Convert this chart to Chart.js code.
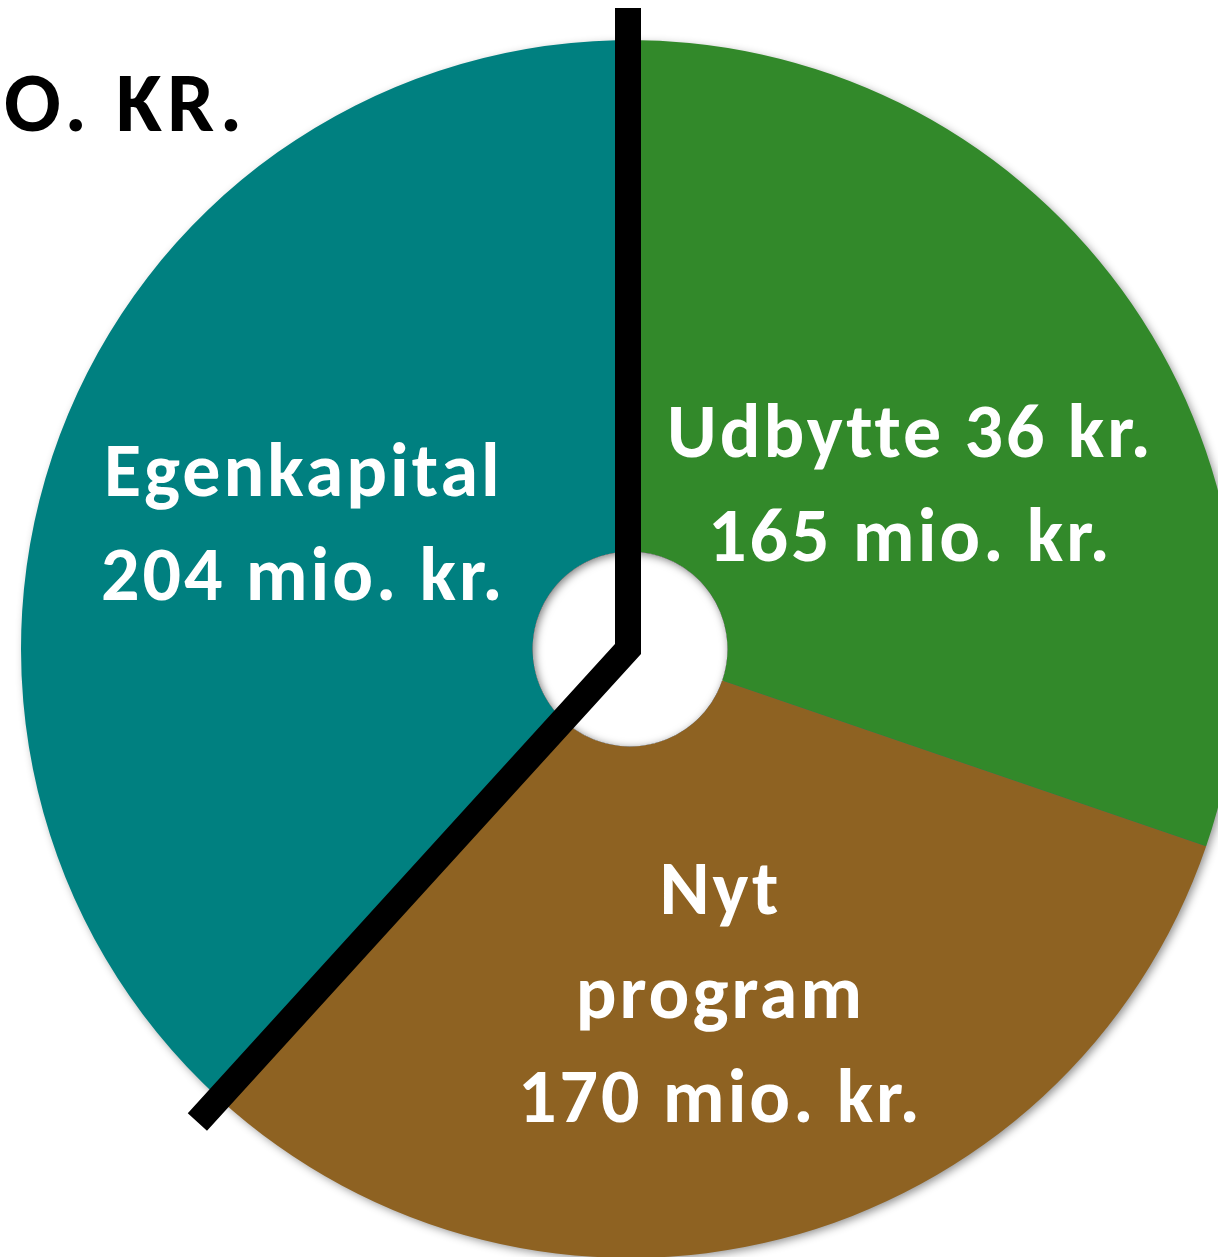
<!DOCTYPE html>
<html>
<head>
<meta charset="utf-8">
<script src="https://cdn.jsdelivr.net/npm/chart.js@4/dist/chart.umd.min.js"></script>
<style>
  html, body { margin: 0; padding: 0; background: #ffffff; overflow: hidden; width: 1218px; height: 1257px; }
  #wrap { position: absolute; left: 0; top: 0; width: 1260px; height: 1258px; }
</style>
</head>
<body>
<div id="wrap"><canvas id="c"></canvas></div>
<script>
// ---- data ----
const categories = ['Udbytte 36 kr.', 'Nyt program', 'Egenkapital'];
const categoryLines = [['Udbytte 36 kr.'], ['Nyt', 'program'], ['Egenkapital']];
const values = [165, 170, 204];
const valueUnit = ' mio. kr.';
const unitTitle = 'O. KR.';
const colors = ['#32892A', '#8E6222', '#008080'];

// label anchors (fractions of outer radius from centre: x of centre line, y of first baseline)
const labelAnchors = [[0.458, -0.315], [0.146, 0.435], [-0.539, -0.251]];
const lineStep = 0.171;
const labelFont = 'bold 76px Carlito, Lato, "Open Sans", sans-serif';
const labelSpacing = 3;

const decor = {
  id: 'decor',
  beforeDatasetsDraw(chart) {
    const arc = chart.getDatasetMeta(0).data[0];
    const { x, y, outerRadius, innerRadius } = arc.getProps(['x', 'y', 'outerRadius', 'innerRadius'], true);
    const ctx = chart.ctx;
    ctx.save();
    ctx.shadowColor = 'rgba(0,0,0,0.45)';
    ctx.shadowBlur = 10;
    ctx.shadowOffsetX = 3;
    ctx.shadowOffsetY = 3;
    ctx.beginPath();
    ctx.arc(x, y, outerRadius - 1, 0, Math.PI * 2);
    ctx.arc(x, y, innerRadius + 2, 0, Math.PI * 2, true);
    ctx.fillStyle = colors[2];
    ctx.fill();
    ctx.restore();
  },
  afterDatasetsDraw(chart) {
    const meta = chart.getDatasetMeta(0);
    const arc = meta.data[0];
    const { x, y, outerRadius, innerRadius } = arc.getProps(['x', 'y', 'outerRadius', 'innerRadius'], true);
    const ctx = chart.ctx;
    // hole: white with an inner shadow
    ctx.save();
    ctx.beginPath();
    ctx.arc(x, y, innerRadius, 0, Math.PI * 2);
    ctx.fillStyle = '#ffffff';
    ctx.fill();
    ctx.clip();
    ctx.beginPath();
    ctx.arc(x, y, innerRadius + 60, 0, Math.PI * 2);
    ctx.arc(x, y, innerRadius, 0, Math.PI * 2, true);
    ctx.shadowColor = 'rgba(0,0,0,0.5)';
    ctx.shadowBlur = 9;
    ctx.shadowOffsetX = 2;
    ctx.shadowOffsetY = 2;
    ctx.fillStyle = '#000';
    ctx.fill();
    ctx.restore();

    // black divider line: straight up from centre, and along the start of the last segment
    const last = meta.data[meta.data.length - 1];
    const a = last.getProps(['startAngle'], true).startAngle;
    const ext = outerRadius + 32;
    ctx.save();
    ctx.strokeStyle = '#000';
    ctx.lineWidth = 26;
    ctx.lineCap = 'butt';
    ctx.lineJoin = 'miter';
    ctx.beginPath();
    ctx.moveTo(x - 2, y - ext);
    ctx.lineTo(x - 2, y);
    ctx.lineTo(x + Math.cos(a) * ext, y + Math.sin(a) * ext);
    ctx.stroke();
    ctx.restore();

    // segment labels
    ctx.save();
    ctx.fillStyle = '#ffffff';
    ctx.font = labelFont;
    if ('letterSpacing' in ctx) ctx.letterSpacing = labelSpacing + 'px';
    ctx.textAlign = 'center';
    ctx.textBaseline = 'alphabetic';
    values.forEach((v, i) => {
      const lines = categoryLines[i].concat([v + valueUnit]);
      const [fx, fy] = labelAnchors[i];
      lines.forEach((t, j) => {
        ctx.fillText(t, x + fx * outerRadius + labelSpacing / 2, y + (fy + j * lineStep) * outerRadius);
      });
    });
    ctx.restore();

    // unit title (cropped in the original)
    ctx.save();
    ctx.fillStyle = '#000000';
    ctx.font = 'bold 84px Carlito, Lato, "Open Sans", sans-serif';
    if ('letterSpacing' in ctx) ctx.letterSpacing = '5px';
    ctx.textAlign = 'left';
    ctx.textBaseline = 'alphabetic';
    ctx.fillText(unitTitle, 4, 131);
    ctx.restore();
  }
};

new Chart(document.getElementById('c'), {
  type: 'doughnut',
  data: {
    labels: categories,
    datasets: [{
      data: values,
      backgroundColor: colors,
      borderWidth: 0,
      hoverOffset: 0
    }]
  },
  options: {
    responsive: true,
    maintainAspectRatio: false,
    animation: false,
    cutout: '16%',
    rotation: -1.3,
    layout: { padding: { top: 40 } },
    plugins: {
      legend: { display: false },
      tooltip: { enabled: false },
      title: { display: false }
    }
  },
  plugins: [decor]
});
</script>
</body>
</html>
